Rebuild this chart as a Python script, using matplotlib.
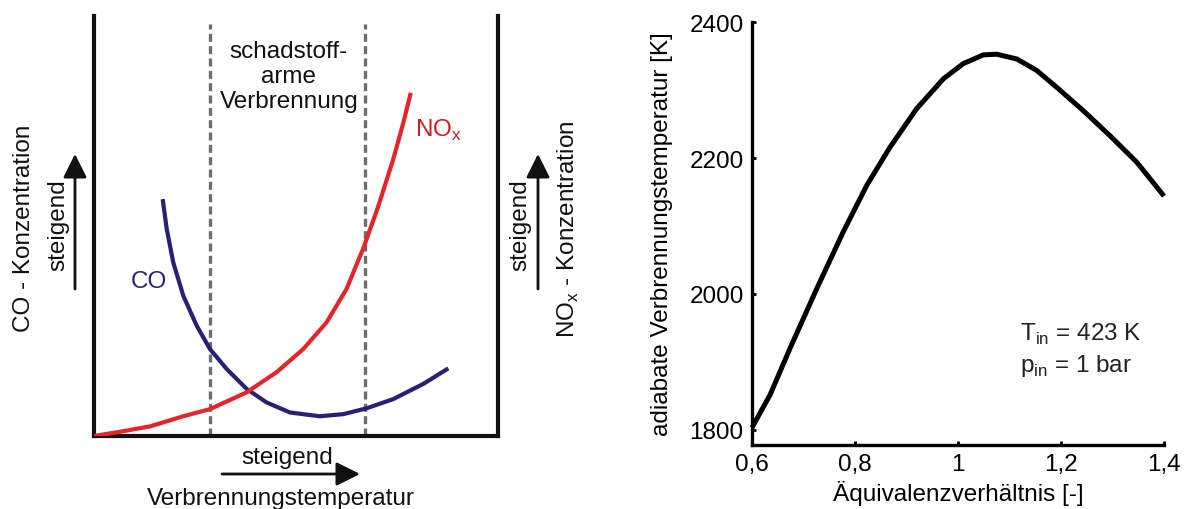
import matplotlib
matplotlib.use("Agg")
import matplotlib.pyplot as plt
from matplotlib.ticker import FuncFormatter
from matplotlib.patches import FancyArrowPatch

plt.rcParams['font.family'] = ['Liberation Sans', 'DejaVu Sans']

# ---- Left panel (schematic) data: normalized temperature / concentration ----
nox_x = [0.0, 0.064, 0.139, 0.221, 0.287, 0.378, 0.452, 0.518, 0.576, 0.625,
         0.667, 0.703, 0.741, 0.766, 0.784]
nox_y = [0.0, 0.010, 0.023, 0.047, 0.064, 0.104, 0.152, 0.207, 0.271, 0.350,
         0.448, 0.545, 0.660, 0.747, 0.817]
co_x = [0.170, 0.180, 0.196, 0.221, 0.254, 0.287, 0.328, 0.378, 0.427, 0.485,
        0.559, 0.617, 0.675, 0.741, 0.815, 0.877]
co_y = [0.564, 0.493, 0.414, 0.334, 0.263, 0.207, 0.160, 0.112, 0.080, 0.056,
        0.047, 0.052, 0.066, 0.088, 0.124, 0.161]
zone_bounds = [0.287, 0.671]

# ---- Right panel data ----
phi = [0.600, 0.635, 0.674, 0.726, 0.777, 0.823, 0.868, 0.920, 0.972, 1.010,
       1.049, 1.075, 1.114, 1.153, 1.192, 1.243, 1.295, 1.347, 1.400]
t_ad = [1803, 1851, 1920, 2008, 2091, 2160, 2216, 2273, 2317, 2339,
        2352, 2353, 2346, 2329, 2304, 2270, 2233, 2194, 2144]
x_ticks = [0.6, 0.8, 1.0, 1.2, 1.4]
y_ticks = [1800, 2000, 2200, 2400]

W, H = 1185, 510
fig = plt.figure(figsize=(W / 100, H / 100), dpi=100)

def fx(px):
    return px / W

def fy(py):
    return 1 - py / H

FS = 17.5
RED = '#e3262b'
NAVY = '#262077'
INK = '#111111'

# Left axes
axL = fig.add_axes([fx(94), fy(437), (498 - 94) / W, (437 - 17) / H])
axL.set_xlim(0, 1)
axL.set_ylim(0, 1)
for s in ['left', 'right', 'bottom']:
    axL.spines[s].set_linewidth(3)
    axL.spines[s].set_color(INK)
axL.spines['top'].set_visible(False)
axL.set_xticks([])
axL.set_yticks([])
axL.patch.set_alpha(0)

for xb in zone_bounds:
    axL.plot([xb, xb], [0, (437 - 25) / 420], color='#6e6e6e', lw=2.4,
             ls=(0, (2.4, 1.3)), zorder=1)
axL.plot(nox_x, nox_y, color=RED, lw=3, zorder=3, solid_capstyle='butt')
axL.plot(co_x, co_y, color=NAVY, lw=3, zorder=2, solid_capstyle='butt')

fig.text(fx(289), fy(77), 'schadstoff-\narme\nVerbrennung', ha='center', va='center',
         fontsize=FS, linespacing=1.2, color=INK)
fig.text(fx(415), fy(130), r'NO$_\mathregular{x}$', ha='left', va='center',
         fontsize=FS, color='#c81f27')
fig.text(fx(131), fy(282), 'CO', ha='left', va='center', fontsize=FS, color=NAVY)

fig.text(fx(24), fy(228), 'CO - Konzentration', rotation=90, ha='center', va='center',
         fontsize=FS, color=INK)
fig.text(fx(58), fy(225), 'steigend', rotation=90, ha='center', va='center',
         fontsize=FS, color=INK)
fig.text(fx(520), fy(225), 'steigend', rotation=90, ha='center', va='center',
         fontsize=FS, color=INK)
fig.text(fx(568), fy(229), r'NO$_\mathregular{x}$ - Konzentration', rotation=90,
         ha='center', va='center', fontsize=FS, color=INK)
fig.text(fx(287), fy(458), 'steigend', ha='center', va='center', fontsize=FS, color=INK)
fig.text(fx(281), fy(499), 'Verbrennungstemperatur', ha='center', va='center',
         fontsize=FS, color=INK)

arrow_kw = dict(arrowstyle='-|>,head_length=0.9,head_width=0.45', lw=2,
                color=INK, mutation_scale=16, shrinkA=0, shrinkB=0)
for (x0, y0, x1, y1) in [(75, 290, 75, 155), (538, 290, 538, 155), (222, 475, 360, 475)]:
    fig.add_artist(FancyArrowPatch((fx(x0), fy(y0)), (fx(x1), fy(y1)),
                                   transform=fig.transFigure, **arrow_kw))

# Right axes
axR = fig.add_axes([fx(752), fy(445.5), (1164 - 752) / W, (445.5 - 23.3) / H])
axR.plot(phi, t_ad, color='black', lw=3.6, solid_capstyle='butt',
         solid_joinstyle='round', clip_on=False)
axR.set_xlim(0.6, 1.4)
axR.set_ylim(1778, 2400)
axR.set_xticks(x_ticks)
axR.set_yticks(y_ticks)
axR.xaxis.set_major_formatter(FuncFormatter(lambda v, p: ('%g' % v).replace('.', ',')))
axR.spines['top'].set_visible(False)
axR.spines['right'].set_visible(False)
for s in ['left', 'bottom']:
    axR.spines[s].set_linewidth(2.4)
axR.tick_params(direction='in', length=3, width=2, labelsize=FS, pad=6)
axR.set_xlabel('Äquivalenzverhältnis [-]', fontsize=FS, labelpad=4)
axR.set_ylabel('adiabate Verbrennungstemperatur [K]', fontsize=FS, labelpad=12)
axR.text(1.12, 1932, r'T$_\mathregular{in}$ = 423 K', fontsize=FS, ha='left',
         va='baseline', color='#222222')
axR.text(1.12, 1886, r'p$_\mathregular{in}$ = 1 bar', fontsize=FS, ha='left',
         va='baseline', color='#222222')

fig.savefig('out.png', dpi=100)
